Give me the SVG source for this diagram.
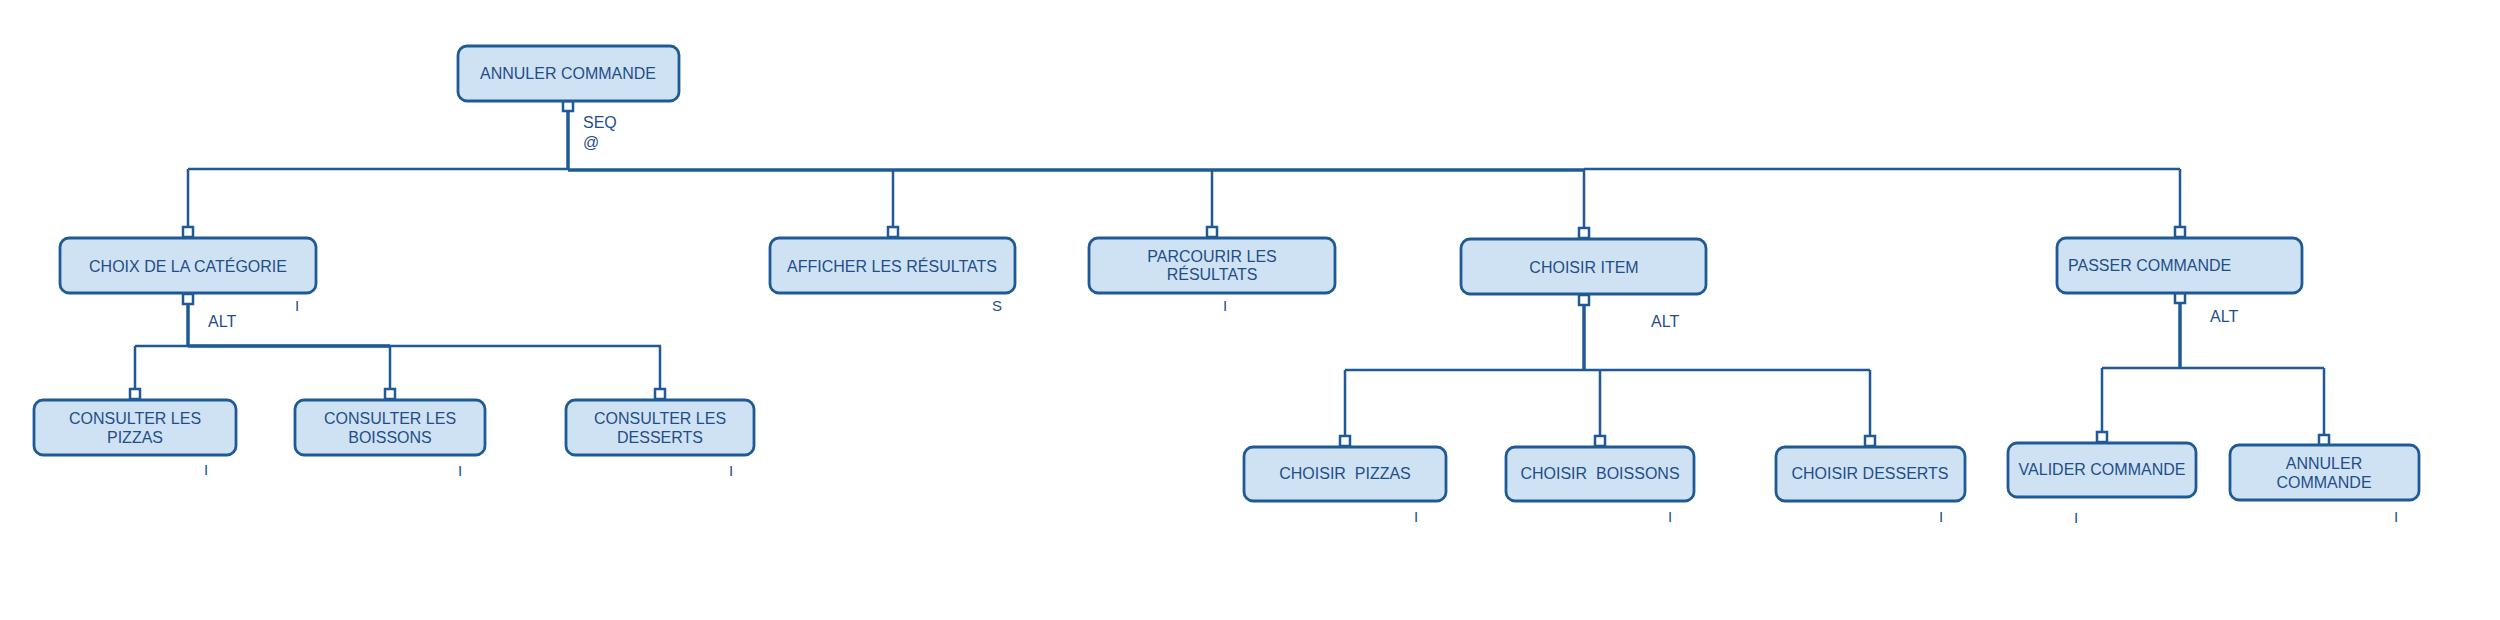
<svg xmlns="http://www.w3.org/2000/svg" width="2500" height="620" viewBox="0 0 2500 620">
<style>
.box{fill:#cfe2f3;stroke:#1f5a96;stroke-width:2.8}
.t{font-family:"Liberation Sans",Arial,sans-serif;font-size:16px;fill:#1f4e8a;text-anchor:middle}
.l{font-family:"Liberation Sans",Arial,sans-serif;font-size:16px;fill:#1f4e8a}
.s{font-family:"Liberation Sans",Arial,sans-serif;font-size:15px;fill:#1f4e8a;text-anchor:middle}
.c{fill:none;stroke:#1f5a96;stroke-width:2.5}
.cb{fill:none;stroke:#1f5a96;stroke-width:3.5}
.sq{fill:#ffffff;stroke:#1f5a96;stroke-width:2.5}
</style>
<rect width="2500" height="620" fill="#ffffff"/>
<g id="connectors">
<path class="cb" d="M568 111V170"/>
<path class="c" d="M188 169H568"/>
<path class="cb" d="M568 170H1584"/>
<path class="c" d="M1584 169H2180"/>
<path class="c" d="M188 169V228M893 169V228M1212 169V228M1584 169V228M2180 169V228"/>
<path class="cb" d="M188 303V346"/>
<path class="c" d="M135 346H661"/>
<path class="cb" d="M188 346H390"/>
<path class="c" d="M135 346V390M390 346V390M660 346V390"/>
<path class="cb" d="M1584 304V370"/>
<path class="c" d="M1345 370H1870M1345 370V437M1600 370V437M1870 370V437"/>
<path class="cb" d="M2180 302V368"/>
<path class="c" d="M2102 368H2324M2102 368V432M2324 368V436"/>
<rect class="sq" x="563" y="101" width="10" height="10"/>
<rect class="sq" x="183" y="227" width="10" height="10"/>
<rect class="sq" x="183" y="294" width="10" height="10"/>
<rect class="sq" x="888" y="227" width="10" height="10"/>
<rect class="sq" x="1207" y="227" width="10" height="10"/>
<rect class="sq" x="1579" y="228" width="10" height="10"/>
<rect class="sq" x="1579" y="295" width="10" height="10"/>
<rect class="sq" x="2175" y="227" width="10" height="10"/>
<rect class="sq" x="2175" y="293" width="10" height="10"/>
<rect class="sq" x="130" y="389" width="10" height="10"/>
<rect class="sq" x="385" y="389" width="10" height="10"/>
<rect class="sq" x="655" y="389" width="10" height="10"/>
<rect class="sq" x="1340" y="436" width="10" height="10"/>
<rect class="sq" x="1595" y="436" width="10" height="10"/>
<rect class="sq" x="1865" y="436" width="10" height="10"/>
<rect class="sq" x="2097" y="432" width="10" height="10"/>
<rect class="sq" x="2319" y="435" width="10" height="10"/>
<text class="l" x="583" y="128">SEQ</text>
<text class="l" x="583" y="148">@</text>
<text class="l" x="208" y="327">ALT</text>
<text class="l" x="1651" y="327">ALT</text>
<text class="l" x="2210" y="322">ALT</text>
</g>
<g id="n-root"><rect class="box" x="458" y="46" width="221" height="55" rx="9"/><text class="t" x="568" y="79">ANNULER COMMANDE</text></g>
<g id="n-choix"><rect class="box" x="60" y="238" width="256" height="55" rx="9"/><text class="t" x="188" y="272">CHOIX DE LA CATÉGORIE</text><text class="s" x="297" y="311">I</text></g>
<g id="n-afficher"><rect class="box" x="770" y="238" width="245" height="55" rx="9"/><text class="t" x="892" y="272">AFFICHER LES RÉSULTATS</text><text class="s" x="997" y="311">S</text></g>
<g id="n-parcourir"><rect class="box" x="1089" y="238" width="246" height="55" rx="9"/><text class="t" x="1212" y="262">PARCOURIR LES</text><text class="t" x="1212" y="280">RÉSULTATS</text><text class="s" x="1225" y="311">I</text></g>
<g id="n-choisir-item"><rect class="box" x="1461" y="239" width="245" height="55" rx="9"/><text class="t" x="1584" y="273">CHOISIR ITEM</text></g>
<g id="n-passer"><rect class="box" x="2057" y="238" width="245" height="55" rx="9"/><text class="l" x="2068" y="271">PASSER COMMANDE</text></g>
<g id="n-cons-pizzas"><rect class="box" x="34" y="400" width="202" height="55" rx="9"/><text class="t" x="135" y="424">CONSULTER LES</text><text class="t" x="135" y="443">PIZZAS</text><text class="s" x="206" y="475">I</text></g>
<g id="n-cons-boissons"><rect class="box" x="295" y="400" width="190" height="55" rx="9"/><text class="t" x="390" y="424">CONSULTER LES</text><text class="t" x="390" y="443">BOISSONS</text><text class="s" x="460" y="476">I</text></g>
<g id="n-cons-desserts"><rect class="box" x="566" y="400" width="188" height="55" rx="9"/><text class="t" x="660" y="424">CONSULTER LES</text><text class="t" x="660" y="443">DESSERTS</text><text class="s" x="731" y="476">I</text></g>
<g id="n-ch-pizzas"><rect class="box" x="1244" y="447" width="202" height="54" rx="9"/><text class="t" x="1345" y="479" xml:space="preserve">CHOISIR  PIZZAS</text><text class="s" x="1416" y="522">I</text></g>
<g id="n-ch-boissons"><rect class="box" x="1506" y="447" width="188" height="54" rx="9"/><text class="t" x="1600" y="479" xml:space="preserve">CHOISIR  BOISSONS</text><text class="s" x="1670" y="522">I</text></g>
<g id="n-ch-desserts"><rect class="box" x="1776" y="447" width="189" height="54" rx="9"/><text class="t" x="1870" y="479">CHOISIR DESSERTS</text><text class="s" x="1941" y="522">I</text></g>
<g id="n-valider"><rect class="box" x="2008" y="443" width="188" height="54" rx="9"/><text class="t" x="2102" y="475">VALIDER COMMANDE</text><text class="s" x="2076" y="523">I</text></g>
<g id="n-annuler2"><rect class="box" x="2230" y="445" width="189" height="55" rx="9"/><text class="t" x="2324" y="469">ANNULER</text><text class="t" x="2324" y="488">COMMANDE</text><text class="s" x="2396" y="522">I</text></g>
</svg>
